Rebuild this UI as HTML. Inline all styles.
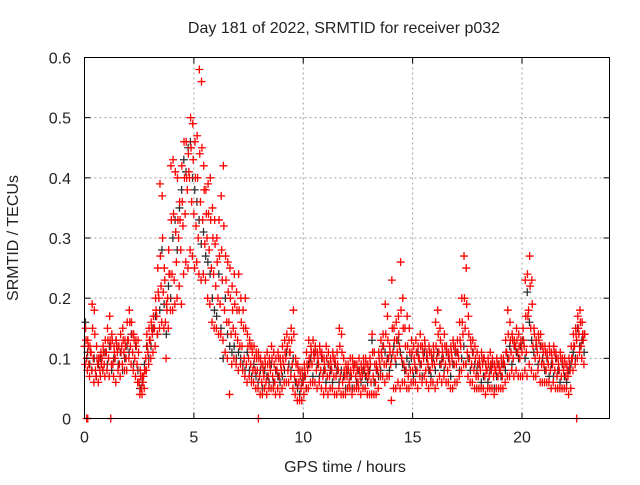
<!DOCTYPE html>
<html><head><meta charset="utf-8"><style>
body{margin:0;background:#fff;}
svg text{font-family:"Liberation Sans",sans-serif;fill:#222;}
</style></head><body>
<svg id="chart" width="640" height="480" xmlns="http://www.w3.org/2000/svg">
<rect x="0" y="0" width="640" height="480" fill="#fff"/>
<text x="344" y="33" font-size="16" text-anchor="middle">Day 181 of 2022, SRMTID for receiver p032</text>
<text x="345" y="472" font-size="16" text-anchor="middle">GPS time / hours</text>
<text transform="translate(18,238) rotate(-90)" font-size="16" text-anchor="middle">SRMTID / TECUs</text>
<g id="grid"></g>
<g id="black-series"></g>
<g id="red-series"></g>
<g id="axes"></g>
</svg>
<script>
const xTicks = [0,5,10,15,20];
const yTicks = [0,0.1,0.2,0.3,0.4,0.5,0.6];
const yTickLabels = ["0","0.1","0.2","0.3","0.4","0.5","0.6"];
const hours = [0.0,0.1,0.2,0.3,0.4,0.5,0.6,0.7,0.8,0.9,1.0,1.1,1.2,1.3,1.4,1.5,1.6,1.7,1.8,1.9,2.0,2.1,2.2,2.3,2.4,2.5,2.6,2.7,2.8,2.9,3.0,3.1,3.2,3.3,3.4,3.5,3.6,3.7,3.8,3.9,4.0,4.1,4.2,4.3,4.4,4.5,4.6,4.7,4.8,4.9,5.0,5.1,5.2,5.3,5.4,5.5,5.6,5.7,5.8,5.9,6.0,6.1,6.2,6.3,6.4,6.5,6.6,6.7,6.8,6.9,7.0,7.1,7.2,7.3,7.4,7.5,7.6,7.7,7.8,7.9,8.0,8.1,8.2,8.3,8.4,8.5,8.6,8.7,8.8,8.9,9.0,9.1,9.2,9.3,9.4,9.5,9.6,9.7,9.8,9.9,10.0,10.1,10.2,10.3,10.4,10.5,10.6,10.7,10.8,10.9,11.0,11.1,11.2,11.3,11.4,11.5,11.6,11.7,11.8,11.9,12.0,12.1,12.2,12.3,12.4,12.5,12.6,12.7,12.8,12.9,13.0,13.1,13.2,13.3,13.4,13.5,13.6,13.7,13.8,13.9,14.0,14.1,14.2,14.3,14.4,14.5,14.6,14.7,14.8,14.9,15.0,15.1,15.2,15.3,15.4,15.5,15.6,15.7,15.8,15.9,16.0,16.1,16.2,16.3,16.4,16.5,16.6,16.7,16.8,16.9,17.0,17.1,17.2,17.3,17.4,17.5,17.6,17.7,17.8,17.9,18.0,18.1,18.2,18.3,18.4,18.5,18.6,18.7,18.8,18.9,19.0,19.1,19.2,19.3,19.4,19.5,19.6,19.7,19.8,19.9,20.0,20.1,20.2,20.3,20.4,20.5,20.6,20.7,20.8,20.9,21.0,21.1,21.2,21.3,21.4,21.5,21.6,21.7,21.8,21.9,22.0,22.1,22.2,22.3,22.4,22.5,22.6,22.7,22.8];
// values in hundredths of TECU
const redMid = [12,10,9,11,10,8,9,8,10,9, 11,10,12,9,10,11,9,12,11,10, 13,12,11,10,9,6,5,7,10,11, 13,14,15,17,20,22,21,16,20,24, 24,23,26,30,28,32,34,38,40,36, 34,32,30,36,33,29,30,28,25,24, 22,20,19,23,18,16,16,14,15,14, 13,12,12,10,9,10,9,8,8,8, 7,6,7,6,7,8,7,6,8,7, 8,9,10,8,11,9,7,6,6,5, 6,7,8,9,9,10,8,9,8,7, 8,7,7,8,7,7,8,7,6,7, 7,6,7,8,7,6,7,7,8,7, 7,6,7,6,8,9,10,9,9,10, 9,11,10,11,12,10,9,8,7,8, 8,9,8,10,9,10,8,9,8,9, 9,10,11,9,10,9,8,9,10,9, 9,10,12,14,15,11,10,9,8,7, 7,8,9,7,8,7,8,7,8,7, 8,7,9,11,10,11,10,12,11,10, 11,12,11,18,15,12,10,11,10,9, 9,8,9,8,9,8,7,8,7,8, 7,7,8,10,12,13,14,12,13];
const redHigh = [15,13,12,19,18,12,10,11,12,13, 15,17,14,12,13,12,14,15,13,16, 18,16,14,13,13,8,7,8,14,15, 16,17,20,25,39,37,25,19,28,42, 43,41,40,36,42,46,46,44,50,49, 46,47,58,56,42,38,39,40,35,33, 30,33,37,42,27,26,25,22,24,21, 24,20,18,20,14,13,12,12,11,11, 10,9,10,11,10,12,11,10,11,10, 12,13,14,13,15,18,10,9,8,8, 9,11,13,12,13,12,11,12,11,10, 12,11,10,11,10,11,15,14,10,9, 9,10,10,9,9,10,9,10,10,9, 10,14,11,9,11,13,14,19,17,12, 23,15,16,17,26,20,15,17,15,13, 12,13,12,14,12,13,11,12,11,12, 16,18,15,12,14,12,11,12,13,12, 13,16,20,27,25,17,13,13,12,11, 10,11,10,9,10,11,10,9,10,9, 10,10,13,18,16,14,13,15,14,13, 15,23,24,27,23,15,13,14,14,12, 12,11,12,11,12,11,10,11,10,10, 9,10,12,14,15,17,18,16,14];
const redLow = [9,8,7,8,6,7,6,7,8,7, 8,7,9,7,6,8,7,9,8,8, 10,9,8,7,6,4,4,5,8,9, 10,11,12,14,15,16,15,10,15,18, 18,19,20,22,19,24,26,25,28,27, 25,26,24,23,24,23,20,19,16,15, 15,14,14,13,11,10,4,9,10,9, 8,9,8,7,6,7,6,6,5,5, 4,4,5,4,5,5,5,4,5,4, 5,6,6,6,7,5,4,3,3,3, 4,5,5,6,6,6,5,6,5,4, 5,4,5,5,4,4,5,4,4,4, 5,5,4,5,5,5,4,5,5,4, 4,4,4,4,5,7,7,6,7,7, 3,5,5,6,5,6,6,5,5,6, 6,6,5,7,6,7,6,5,6,6, 5,6,7,6,7,6,6,5,5,6, 6,7,8,9,9,7,6,6,5,5, 5,5,5,4,5,5,5,4,5,5, 5,5,6,7,7,8,7,8,7,7, 7,8,7,9,8,7,7,8,6,6, 6,6,6,5,6,5,5,5,5,5, 5,4,5,8,9,10,11,10,9];
const redUpperMid = [13,12,11,15,14,10,10,9,11,11, 13,13,13,11,12,12,11,13,12,13, 16,14,13,12,11,7,6,8,12,13, 15,15,18,21,27,30,23,18,24,33, 34,31,33,33,36,40,40,41,45,43, 40,40,44,45,38,34,34,33,30,29, 26,27,28,32,23,21,20,18,19,18, 18,16,15,15,12,12,11,10,10,10, 9,8,9,9,9,10,9,8,10,9, 10,11,12,11,13,14,9,8,7,7, 8,9,10,11,11,11,10,11,10,9, 10,9,9,10,9,9,12,11,8,8, 8,8,9,9,8,8,8,9,9,8, 9,11,9,8,10,11,12,14,13,11, 15,13,13,14,18,15,12,12,11,11, 10,11,10,12,11,12,10,11,10,11, 12,14,13,11,12,11,10,11,12,11, 11,13,16,20,19,14,12,11,10,9, 9,10,10,8,9,9,9,8,9,8, 9,9,11,14,13,13,12,13,12,12, 13,17,17,22,19,14,12,13,12,11, 11,10,11,10,11,10,9,10,9,9, 8,9,10,12,14,15,16,14,14];
const blackVals = [16,11,9,8,10,7,9,10,8,11, 9,12,8,10,13,9,11,8,10,12, 11,14,9,12,8,5,6,9,12,10, 12,15,17,14,18,28,19,14,22,20, 30,33,28,35,38,43,41,45,46,40, 38,36,33,29,31,27,26,24,20,18, 17,24,15,10,20,14,12,11,12,10, 11,10,9,8,11,8,7,9,7,6, 8,5,8,7,6,9,6,8,7,6, 7,8,11,9,8,10,6,5,4,6, 7,5,9,10,7,11,9,7,10,8, 6,9,8,6,9,8,6,8,7,5, 8,7,5,9,6,8,6,8,7,6, 8,13,6,8,7,8,12,11,10,8, 10,12,9,13,11,9,8,10,9,10, 7,8,11,9,7,11,10,8,7,10, 8,11,9,10,8,11,10,7,9,11, 11,8,10,12,9,10,8,11,9,8, 9,6,7,9,6,8,9,5,7,9, 7,9,8,10,12,9,12,11,10,12, 13,10,21,16,13,11,12,9,12,10, 8,10,7,9,7,10,8,6,9,7, 6,8,9,11,10,15,12,13,11];
const zeroHours = [0.1,0.15,1.2,7.95,22.5];

const L=84.5, R=609.5, T=57.5, B=418.5;
const xMax=24, yMax=0.6;
function xs(h){return L+(h/xMax)*(R-L);}
function ys(v){return B-(v/yMax)*(B-T);}
const NS="http://www.w3.org/2000/svg";
function mk(tag,attrs,parent){const e=document.createElementNS(NS,tag);for(const k in attrs)e.setAttribute(k,attrs[k]);parent.appendChild(e);return e;}

const grid=document.getElementById('grid');
const axes=document.getElementById('axes');
xTicks.forEach(t=>{
  const x=xs(t);
  if(t>0){const g=mk('line',{x1:x,y1:T,x2:x,y2:B,stroke:'#a0a0a0','stroke-dasharray':'2,3'},grid);
  
  }
  mk('line',{x1:x,y1:B,x2:x,y2:B-6,stroke:'#000'},axes);
  mk('line',{x1:x,y1:T,x2:x,y2:T+6,stroke:'#000'},axes);
  const lb=mk('text',{x:x,y:B+24,'font-size':16,'text-anchor':'middle'},axes);
  lb.textContent=String(t);
  
  
});
yTicks.forEach((t,i)=>{
  const y=ys(t);
  if(t>0&&t<yMax){const g=mk('line',{x1:L,y1:y,x2:R,y2:y,stroke:'#a0a0a0','stroke-dasharray':'2,3'},grid);
  
  }
  mk('line',{x1:L,y1:y,x2:L+6,y2:y,stroke:'#000'},axes);
  mk('line',{x1:R,y1:y,x2:R-6,y2:y,stroke:'#000'},axes);
  const lb=mk('text',{x:71,y:y+6,'font-size':16,'text-anchor':'end'},axes);
  lb.textContent=yTickLabels[i];
  
  
});
const frame=mk('rect',{x:L,y:T,width:R-L,height:B-T,fill:'none',stroke:'#000','stroke-width':1},axes);



function plus(parent,h,v,color){
  const x=xs(h), y=ys(v);
  const p=mk('path',{d:`M${x-4} ${y}H${x+4}M${x} ${y-4}V${y+4}`,stroke:color,'stroke-width':1.3,fill:'none'},parent);
  
  
}
const bg=document.getElementById('black-series');
const rg=document.getElementById('red-series');
hours.forEach((h,i)=>{ if(blackVals[i]!=null) plus(bg,h+0.04,blackVals[i]/100,'#303030'); });
hours.forEach((h,i)=>{
  plus(rg,h,redMid[i]/100,'#ff0000');
  plus(rg,h+0.05,redHigh[i]/100,'#ff0000');
  plus(rg,h+0.03,redLow[i]/100,'#ff0000');
  plus(rg,h+0.07,redUpperMid[i]/100,'#ff0000');
});
zeroHours.forEach(h=>plus(rg,h,0,'#ff0000'));
</script>
</body></html>
